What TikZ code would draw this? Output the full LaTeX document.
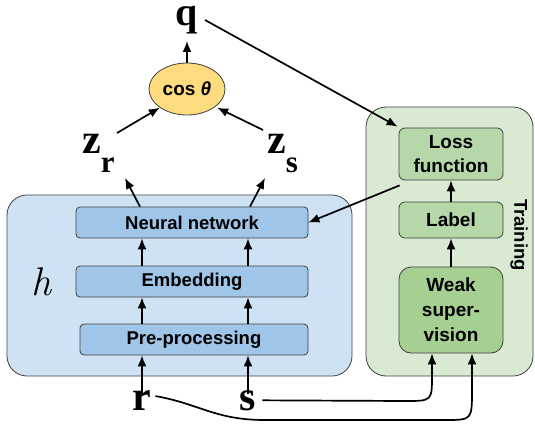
\documentclass[tikz,border=0pt]{standalone}
\usepackage{fontspec}
\setmainfont{Liberation Sans}
\newfontfamily\serifb{Liberation Serif}
\newfontfamily\lmr{Latin Modern Roman}
\usetikzlibrary{arrows.meta,shapes.geometric}
\definecolor{hbg}{HTML}{CFE2F3}
\definecolor{hbox}{HTML}{9FC5E8}
\definecolor{tbg}{HTML}{D9EAD3}
\definecolor{tbox}{HTML}{B6D7A8}
\definecolor{wbox}{HTML}{A6CF92}
\definecolor{cosfill}{HTML}{FFDB80}
\definecolor{edge}{HTML}{404040}
\begin{document}
\begin{tikzpicture}[x=1pt,y=-1pt,
  bigbox/.style={draw=edge,line width=0.8pt,rounded corners=20pt,inner sep=0pt},
  hstage/.style={draw=edge,line width=0.8pt,fill=hbox,rounded corners=4pt,inner sep=0pt,
     minimum height=31pt,font=\fontsize{18.5}{22}\selectfont\bfseries},
  tstage/.style={draw=edge,line width=0.8pt,fill=tbox,rounded corners=6pt,inner sep=0pt,
     minimum width=104pt,align=center,font=\fontsize{19}{24}\selectfont\bfseries},
  bigsym/.style={font=\serifb\fontsize{42}{42}\selectfont\bfseries,inner sep=0pt,anchor=base},
  arr/.style={line width=1.7pt,-{Latex[length=11pt,width=9pt]}}]
\useasboundingbox (0,0) rectangle (535,428);

% containers
\node[bigbox,fill=hbg,minimum width=345pt,minimum height=181pt] (hbox) at (179.5,285.5) {};
\node[bigbox,fill=tbg,minimum width=167pt,minimum height=269pt] (tbox) at (449.5,241.5) {};

% h stages
\node[hstage,minimum width=232pt] (nn) at (192,222.5) {Neural network};
\node[hstage,minimum width=232pt] (emb) at (192,281.5) {Embedding};
\node[hstage,minimum width=228pt] (pre) at (194,339.5) {Pre-processing};
\node[inner sep=0pt,anchor=base,font=\lmr\itshape\fontsize{40}{40}\selectfont] (h) at (41,295) {h};

% training stages
\node[tstage,minimum height=52pt] (loss) at (451,154) {Loss\\function};
\node[tstage,minimum height=36pt] (label) at (451,220) {Label};
\node[tstage,fill=wbox,rounded corners=12pt,minimum height=86pt,font=\fontsize{19}{25}\selectfont\bfseries] (weak) at (451,310) {Weak\\super-\\vision};
\node[rotate=-90,inner sep=0pt,font=\fontsize{18.5}{20}\selectfont\bfseries] (train) at (519,235) {Training};

% inputs
\node[bigsym] (r) at (142,410) {r};
\node[bigsym] (s) at (248,410) {s};

% outputs
\node[bigsym,anchor=base west] (zr) at (82,153) {z\raisebox{-19pt}{\fontsize{31}{31}\selectfont r}};
\node[bigsym,anchor=base west] (zs) at (267,153) {z\raisebox{-19pt}{\fontsize{31}{31}\selectfont s}};
\node[ellipse,draw=edge,line width=0.8pt,fill=cosfill,minimum width=76pt,minimum height=52pt,inner sep=0pt,
      font=\fontsize{19}{20}\selectfont\bfseries] (cos) at (187,89) {cos \textit{θ}};
\node[bigsym,font=\serifb\fontsize{40}{40}\selectfont\bfseries] (q) at (187,26) {q};

% coordinates
\coordinate (rx) at (142,0);
\coordinate (sx) at (248,0);
\coordinate (w1) at ([xshift=-19pt]weak.south);
\coordinate (w2) at ([xshift=21pt]weak.south);

% vertical arrows in h
\draw[arr] ([yshift=-4pt]r.north) -- (r.north |- pre.south);
\draw[arr] ([yshift=-4pt]s.north) -- (s.north |- pre.south);
\draw[arr] (rx |- pre.north) -- (rx |- emb.south);
\draw[arr] (sx |- pre.north) -- (sx |- emb.south);
\draw[arr] (rx |- emb.north) -- (rx |- nn.south);
\draw[arr] (sx |- emb.north) -- (sx |- nn.south);

% to z
\draw[arr] ([xshift=-2pt]rx |- nn.north) -- (125,178);
\draw[arr] ([xshift=2pt]sx |- nn.north) -- (265,178);
\draw[arr] (117,133) -- (cos.south west);
\draw[arr] (263,130) -- ([xshift=3pt]cos.south east);
\draw[arr] (cos.north) -- (187,41);

% q to loss, loss to nn
\draw[arr] (205,20) -- ([xshift=-1pt,yshift=1pt]loss.north west);
\draw[arr] ([xshift=1pt,yshift=-5pt]loss.south west) -- (nn.east);

% training arrows
\draw[arr] (weak.north) -- (label.south);
\draw[arr] (label.north) -- (loss.south);

% curves from inputs
\draw[arr] ([xshift=6pt]s.east) -- (405,401) .. controls (432,401) .. (432,375) -- (w1);
\draw[arr] ([xshift=4pt,yshift=4pt]r.east) .. controls (200,404) and (215,420) .. (265,420)
   -- (445,420) .. controls (472,420) .. (472,390) -- (w2);
\end{tikzpicture}
\end{document}
